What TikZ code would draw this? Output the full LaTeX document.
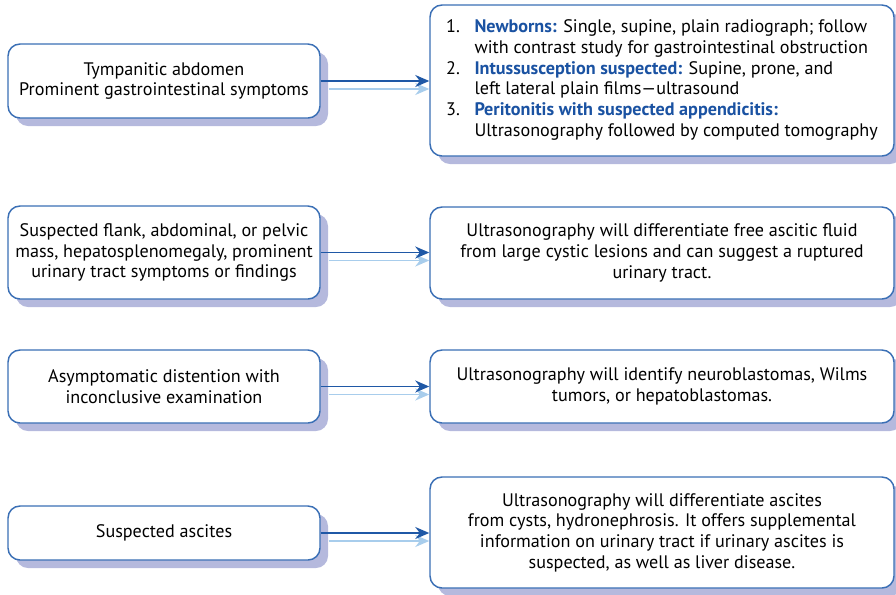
\documentclass[tikz,border=0pt]{standalone}
\usepackage{fontspec}
\setmainfont{PT Sans}
\usetikzlibrary{arrows.meta,shadows}
\definecolor{bord}{HTML}{3A6FB5}
\definecolor{shad}{HTML}{B5B9DD}
\definecolor{darrow}{HTML}{1F58A6}
\definecolor{larrow}{HTML}{A8CDEC}
\definecolor{lbl}{HTML}{1A52A2}
\newcommand{\lab}[1]{\textcolor{lbl}{\bfseries #1}}
\begin{document}
\begin{tikzpicture}[x=0.75pt,y=-0.75pt,
  box/.style={draw=bord, line width=1.1pt, fill=white, rounded corners=9pt,
    align=center, inner sep=0pt,
    drop shadow={shadow xshift=6pt, shadow yshift=-6pt, fill=shad, opacity=1},
    font=\fontsize{13.6}{15.5}\selectfont},
  lbox/.style={box, minimum width=234pt},
  rbox/.style={box, minimum width=348pt},
  darr/.style={draw=darrow, line width=1.4pt, -{Stealth[length=10.5pt,width=9pt]}},
  larr/.style={draw=larrow, line width=1.4pt, -{Stealth[length=10.5pt,width=9pt]}}
  ]
\useasboundingbox (0,0) rectangle (896,594);

\node[lbox, minimum height=55.5pt] (L1) at (164,81) {Tympanitic abdomen\\Prominent gastrointestinal symptoms};
\node[rbox, minimum height=113.25pt] (R1) at (662,80.5) {%
\begin{tabular}{@{}r@{\ \ \ }l@{}}
1. & \lab{Newborns:} Single, supine, plain radiograph; follow\\
   & with contrast study for gastrointestinal obstruction\\
2. & \lab{Intussusception suspected:} Supine, prone, and\\
   & left lateral plain films—ultrasound\\
3. & \lab{Peritonitis with suspected appendicitis:}\\
   & Ultrasonography followed by computed tomography
\end{tabular}};

\node[lbox, minimum height=69.75pt] (L2) at (164,252.5) {Suspected flank, abdominal, or pelvic\\mass, hepatosplenomegaly, prominent\\urinary tract symptoms or findings};
\node[rbox, minimum height=69pt] (R2) at (662,253) {Ultrasonography will differentiate free ascitic fluid\\from large cystic lesions and can suggest a ruptured\\urinary tract.};

\node[lbox, minimum height=54.75pt] (L3) at (164,386.5) {Asymptomatic distention with\\inconclusive examination};
\node[rbox, minimum height=54.75pt] (R3) at (662,386.5) {Ultrasonography will identify neuroblastomas, Wilms\\tumors, or hepatoblastomas.};

\node[lbox, minimum height=40.5pt] (L4) at (164,533) {Suspected ascites};
\node[rbox, minimum height=83.25pt] (R4) at (662,532.5) {Ultrasonography will differentiate ascites\\from cysts, hydronephrosis. It offers supplemental\\information on urinary tract if urinary ascites is\\suspected, as well as liver disease.};

\foreach \a/\b in {L1/R1,L2/R2,L3/R3,L4/R4}{
  \draw[larr] ([shift={(8,8)}]\a.east) -- ([yshift=-6pt]\a.east -| \b.west);
  \draw[darr] (\a.east) -- (\a.east -| \b.west);
}
\end{tikzpicture}
\end{document}
